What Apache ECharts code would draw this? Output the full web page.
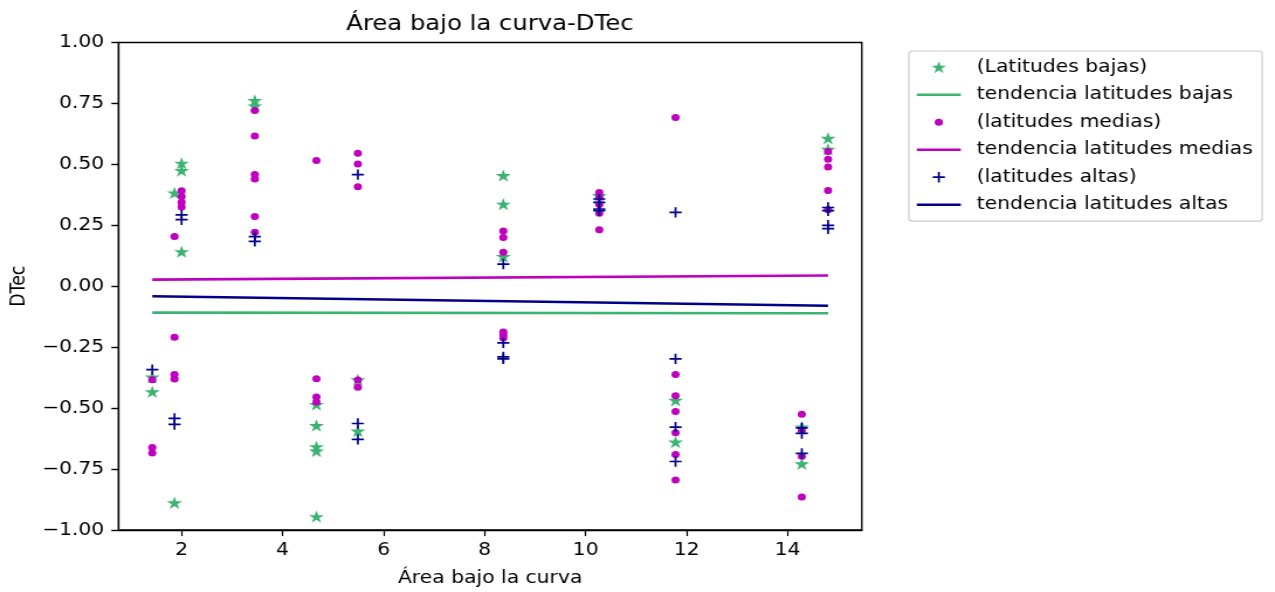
<!DOCTYPE html>
<html>
<head>
<meta charset="utf-8">
<script src="https://cdn.jsdelivr.net/npm/echarts@6/dist/echarts.min.js"></script>
<style>
html,body{margin:0;padding:0;overflow:hidden;background:#fff;}
#wrap{width:1275px;height:592px;overflow:hidden;}
#chart{width:1090px;height:592px;transform:scaleX(1.16972);transform-origin:0 0;}
</style>
</head>
<body>
<div id="wrap"><div id="chart"></div></div>
<script>
// ---- data ----
const xTicks = [2, 4, 6, 8, 10, 12, 14];
const yTicks = [-1, -0.75, -0.5, -0.25, 0, 0.25, 0.5, 0.75, 1];

const bajasPoints = [
  [1.42, -0.372], [1.42, -0.433],
  [1.86, 0.383], [1.86, -0.888],
  [2.00, 0.505], [2.00, 0.475], [2.00, 0.142],
  [3.45, 0.762], [3.45, 0.740],
  [4.67, -0.485], [4.67, -0.571], [4.67, -0.658], [4.67, -0.676], [4.67, -0.945],
  [5.49, -0.383], [5.49, -0.594],
  [8.37, 0.454], [8.37, 0.337], [8.37, 0.122],
  [10.27, 0.372],
  [11.78, -0.468], [11.78, -0.639],
  [14.28, -0.577], [14.28, -0.728],
  [14.80, 0.607], [14.80, 0.562]
];
const mediasPoints = [
  [1.42, -0.384], [1.42, -0.662], [1.42, -0.684],
  [1.86, 0.204], [1.86, -0.209], [1.86, -0.362], [1.86, -0.380],
  [2.00, 0.392], [2.00, 0.368], [2.00, 0.345], [2.00, 0.325],
  [3.45, 0.721], [3.45, 0.616], [3.45, 0.458], [3.45, 0.440], [3.45, 0.286], [3.45, 0.222],
  [4.67, 0.516], [4.67, -0.379], [4.67, -0.454], [4.67, -0.475],
  [5.49, 0.546], [5.49, 0.502], [5.49, 0.408], [5.49, -0.385], [5.49, -0.414],
  [8.37, 0.227], [8.37, 0.200], [8.37, 0.140], [8.37, -0.188], [8.37, -0.200], [8.37, -0.212],
  [10.27, 0.385], [10.27, 0.365], [10.27, 0.335], [10.27, 0.300], [10.27, 0.232],
  [11.78, 0.692], [11.78, -0.362], [11.78, -0.449], [11.78, -0.514], [11.78, -0.601], [11.78, -0.690], [11.78, -0.795],
  [14.28, -0.525], [14.28, -0.590], [14.28, -0.697], [14.28, -0.865],
  [14.80, 0.553], [14.80, 0.521], [14.80, 0.489], [14.80, 0.393], [14.80, 0.314]
];
const altasPoints = [
  [1.42, -0.342],
  [1.86, -0.542], [1.86, -0.567],
  [2.00, 0.293], [2.00, 0.273],
  [3.45, 0.204], [3.45, 0.184],
  [5.49, 0.458], [5.49, -0.563], [5.49, -0.628],
  [8.37, 0.091], [8.37, -0.232], [8.37, -0.290], [8.37, -0.298],
  [10.27, 0.358], [10.27, 0.344], [10.27, 0.317], [10.27, 0.310],
  [11.78, 0.303], [11.78, -0.298], [11.78, -0.578], [11.78, -0.719],
  [14.28, -0.581], [14.28, -0.604], [14.28, -0.686],
  [14.80, 0.323], [14.80, 0.310], [14.80, 0.250], [14.80, 0.236]
];
const trendX = [1.42, 14.80];
const trendBajas = [-0.108, -0.111];
const trendMedias = [0.027, 0.044];
const trendAltas = [-0.041, -0.080];

// ---- styling helpers ----
const GREEN = '#3CB371', MAGENTA = '#BF00BF', NAVY = '#00008B';
const FONT = 'DejaVu Sans';

function starPts(cx, cy, R) {
  let s = '';
  for (let k = 0; k < 10; k++) {
    const a = Math.PI / 2 + k * Math.PI / 5;
    const rr = k % 2 === 0 ? R : R * 0.381966;
    const x = cx + rr * Math.cos(a), y = cy - rr * Math.sin(a);
    s += (k === 0 ? 'M' : 'L') + x.toFixed(3) + ',' + y.toFixed(3);
  }
  return s + 'Z';
}
const starSymbol = 'path://' + starPts(0, 0, 10);
const plusSymbol = 'path://M4.18,0H5.82V4.18H10V5.82H5.82V10H4.18V5.82H0V4.18H4.18Z';
const starIcon = 'path://M0,0M13,13' + starPts(6.5, 7.1, 6.6);
const dotIcon = 'path://M0,0M13,13M10,6.5A3.5,3.5,0,1,1,3,6.5A3.5,3.5,0,1,1,10,6.5Z';
const plusIcon = 'path://M0,0M13,13M5.65,1.3H7.35V5.65H11.7V7.35H7.35V11.7H5.65V7.35H1.3V5.65H5.65Z';
const lineIcon = 'path://M0,0H40V2.6H0Z';

function fmt(v) {
  return (v < 0 ? '\u2212' : '') + Math.abs(v).toFixed(2);
}
function pairs(xs, ys) { return xs.map((x, i) => [x, ys[i]]); }

const chart = echarts.init(document.getElementById('chart'), null, {renderer: 'canvas'});
chart.setOption({
  animation: false,
  backgroundColor: '#fff',
  title: {
    text: 'Área bajo la curva-DTec',
    left: 418.85, top: 14, padding: 0, textAlign: 'center',
    textStyle: {fontFamily: FONT, fontSize: 20.8, fontWeight: 'normal', color: '#000'}
  },
  grid: {
    left: 100.9, top: 42.5, width: 635.9, height: 488.2,
    show: true, borderColor: '#000', borderWidth: 1.3, containLabel: false
  },
  legend: {
    orient: 'vertical', left: 777, top: 51,
    padding: [6.2, 8, 6.5, 6.8],
    itemWidth: 37.6, itemHeight: 13, itemGap: 7.5,
    borderColor: '#cccccc', borderWidth: 1.2, borderRadius: 3,
    backgroundColor: 'rgba(255,255,255,0.8)',
    textStyle: {fontFamily: FONT, fontSize: 17.36, color: '#000', lineHeight: 20, padding: [0, 0, 0, 8.6]},
    data: [
      {name: '(Latitudes bajas)', icon: starIcon},
      {name: 'tendencia latitudes bajas', icon: lineIcon},
      {name: '(latitudes medias)', icon: dotIcon},
      {name: 'tendencia latitudes medias', icon: lineIcon},
      {name: '(latitudes altas)', icon: plusIcon},
      {name: 'tendencia latitudes altas', icon: lineIcon}
    ]
  },
  xAxis: {
    type: 'value', min: 0.751, max: 15.469,
    name: 'Área bajo la curva', nameLocation: 'middle', nameGap: 40,
    nameTextStyle: {fontFamily: FONT, fontSize: 17.36, color: '#000'},
    axisLine: {show: true, onZero: false, lineStyle: {color: '#000', width: 1.3}},
    axisTick: {show: true, length: 6.1, inside: false, customValues: xTicks, lineStyle: {color: '#000', width: 1.2}},
    axisLabel: {customValues: xTicks, margin: 12.2, fontFamily: FONT, fontSize: 17.36, color: '#000'},
    splitLine: {show: false}
  },
  yAxis: {
    type: 'value', min: -1, max: 1, interval: 0.25,
    name: 'DTec', nameLocation: 'middle', nameGap: 75,
    nameTextStyle: {fontFamily: FONT, fontSize: 17.36, color: '#000'},
    axisLine: {show: true, onZero: false, lineStyle: {color: '#000', width: 1.3}},
    axisTick: {show: true, length: 6.1, inside: false, lineStyle: {color: '#000', width: 1.4}},
    axisLabel: {margin: 12.2, fontFamily: FONT, fontSize: 17.36, color: '#000', formatter: fmt},
    splitLine: {show: false}
  },
  series: [
    {
      name: '(Latitudes bajas)', type: 'scatter', data: bajasPoints,
      symbol: starSymbol, symbolSize: [13, 12.4],
      itemStyle: {color: GREEN, opacity: 1}, z: 2
    },
    {
      name: 'tendencia latitudes bajas', type: 'line', data: pairs(trendX, trendBajas),
      symbol: 'none', showSymbol: false,
      lineStyle: {color: GREEN, width: 2.6}, itemStyle: {color: GREEN}, z: 3
    },
    {
      name: '(latitudes medias)', type: 'scatter', data: mediasPoints,
      symbol: 'circle', symbolSize: 7,
      itemStyle: {color: MAGENTA, opacity: 1}, z: 4
    },
    {
      name: 'tendencia latitudes medias', type: 'line', data: pairs(trendX, trendMedias),
      symbol: 'none', showSymbol: false,
      lineStyle: {color: MAGENTA, width: 2.6}, itemStyle: {color: MAGENTA}, z: 5
    },
    {
      name: '(latitudes altas)', type: 'scatter', data: altasPoints,
      symbol: plusSymbol, symbolSize: 10.4,
      itemStyle: {color: NAVY, opacity: 1}, z: 6
    },
    {
      name: 'tendencia latitudes altas', type: 'line', data: pairs(trendX, trendAltas),
      symbol: 'none', showSymbol: false,
      lineStyle: {color: NAVY, width: 2.6}, itemStyle: {color: NAVY}, z: 7
    }
  ]
});
</script>
</body>
</html>
